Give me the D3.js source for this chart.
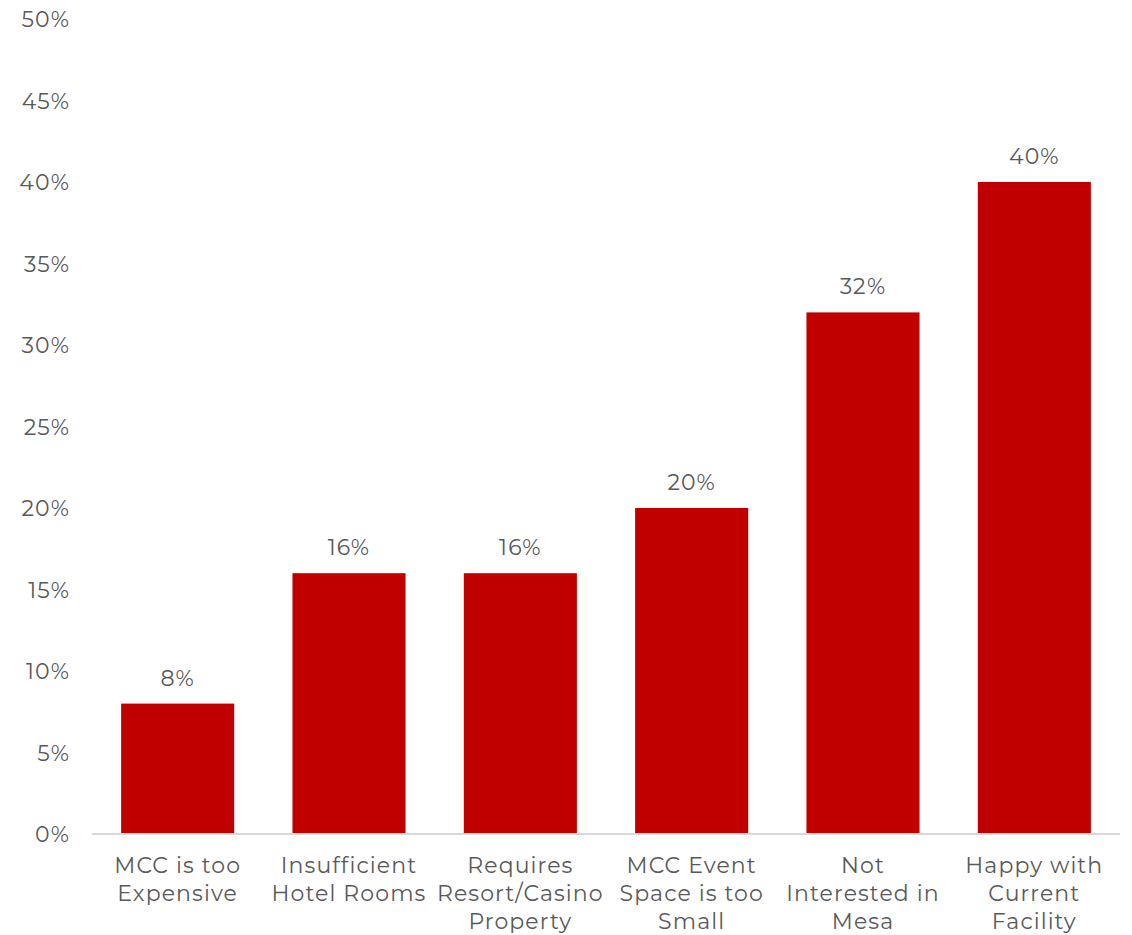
<!DOCTYPE html>
<html>
<head>
<meta charset="utf-8">
<script src="https://cdn.jsdelivr.net/npm/d3@7"></script>
<style>
  html, body { margin: 0; padding: 0; background: #fff; }
  svg text { font-family: "Montserrat", "Lato", "Noto Sans", sans-serif; fill: #595959; font-weight: 400; letter-spacing: 1.1px; }
</style>
</head>
<body>
<svg id="chart" width="1132" height="935"></svg>
<script>
// Reasons for not booking the convention center (share of respondents)
const categories = [
  ["MCC is too", "Expensive"],
  ["Insufficient", "Hotel Rooms"],
  ["Requires", "Resort/Casino", "Property"],
  ["MCC Event", "Space is too", "Small"],
  ["Not", "Interested in", "Mesa"],
  ["Happy with", "Current", "Facility"]
];
const values = [8, 16, 16, 20, 32, 40];
const yTicks = [0, 5, 10, 15, 20, 25, 30, 35, 40, 45, 50];

const svg = d3.select("#chart");
const plot = { left: 92, right: 1120, top: 19, bottom: 834 };

const x = d3.scaleBand()
  .domain(d3.range(categories.length))
  .range([plot.left, plot.right])
  .paddingInner(0.34)
  .paddingOuter(0.17);

const y = d3.scaleLinear().domain([0, 50]).range([plot.bottom, plot.top]);

// Y axis labels (no axis line, no ticks)
const yAxis = d3.axisLeft(y).tickValues(yTicks).tickFormat(d => d + "%").tickSize(0).tickPadding(0);
const yg = svg.append("g").attr("transform", "translate(70,0)").call(yAxis);
yg.select(".domain").remove();
yg.selectAll("text").style("font-size", "22px").attr("fill", "#595959").attr("dy", "0.35em");

// Bars
svg.append("g").selectAll("rect")
  .data(values)
  .join("rect")
  .attr("x", (d, i) => x(i))
  .attr("width", x.bandwidth())
  .attr("y", d => y(d))
  .attr("height", d => y(0) - y(d))
  .attr("fill", "#C00000");

// Baseline
svg.append("line")
  .attr("x1", plot.left).attr("x2", plot.right)
  .attr("y1", y(0)).attr("y2", y(0))
  .attr("stroke", "#D9D9D9").attr("stroke-width", 2);

// Value labels
svg.append("g").selectAll("text")
  .data(values)
  .join("text")
  .attr("x", (d, i) => x(i) + x.bandwidth() / 2)
  .attr("y", d => y(d) - 18)
  .attr("text-anchor", "middle")
  .style("font-size", "22px")
  .text(d => d + "%");

// Category labels (multi-line)
const cat = svg.append("g").selectAll("text")
  .data(categories)
  .join("text")
  .attr("text-anchor", "middle")
  .style("font-size", "22px")
  .attr("transform", (d, i) => `translate(${x(i) + x.bandwidth() / 2},${y(0) + 39})`);
cat.selectAll("tspan")
  .data(d => d)
  .join("tspan")
  .attr("x", 0)
  .attr("y", (d, j) => j * 28)
  .text(d => d);
</script>
</body>
</html>
